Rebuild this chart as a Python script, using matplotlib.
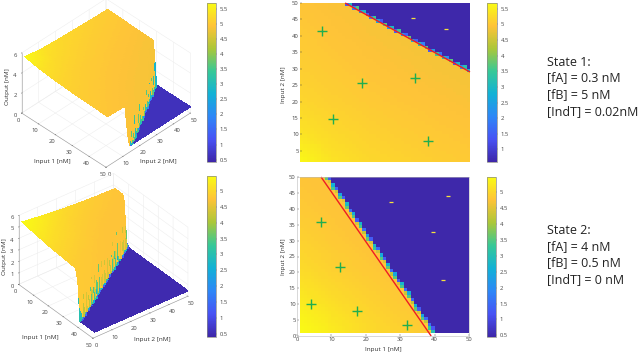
import numpy as np
import matplotlib
matplotlib.use('Agg')
import matplotlib.pyplot as plt
from matplotlib.colors import LinearSegmentedColormap, Normalize
from matplotlib.cm import ScalarMappable
from mpl_toolkits.mplot3d.art3d import Poly3DCollection

W, H = 640, 353
PARULA = LinearSegmentedColormap.from_list('parula', [
    (0.2422, 0.1504, 0.6603), (0.2810, 0.3228, 0.9579), (0.1786, 0.5289, 0.9682),
    (0.0689, 0.6948, 0.8394), (0.2161, 0.7843, 0.5923), (0.6720, 0.7793, 0.2227),
    (0.9970, 0.7659, 0.2199), (0.9769, 0.9839, 0.0805)])

# plateau levels, at input values level_nodes
level_nodes = [1, 10, 20, 30, 40, 50]
levels_1 = [[5.62, 5.35, 5.22, 5.15, 5.08, 5.03],
            [5.35, 5.22, 5.13, 5.06, 5.01, 4.97],
            [5.18, 5.10, 5.03, 4.98, 4.94, 4.90],
            [5.08, 5.02, 4.96, 4.92, 4.88, 4.85],
            [5.02, 4.96, 4.91, 4.87, 4.84, 4.82],
            [4.96, 4.91, 4.87, 4.84, 4.82, 4.80]]
levels_2 = [[5.45, 5.25, 5.05, 4.92, 4.80, 4.72],
            [5.25, 5.08, 4.94, 4.82, 4.74, 4.70],
            [5.05, 4.92, 4.82, 4.74, 4.70, 4.70],
            [4.92, 4.82, 4.74, 4.70, 4.70, 4.70],
            [4.82, 4.76, 4.70, 4.70, 4.70, 4.70],
            [4.76, 4.72, 4.70, 4.70, 4.70, 4.70]]
low_1, low_2 = 0.62, 0.47

# first non-plateau row in every column x = 1..50
bound_1 = [51]*13 + [49, 49, 48, 48, 47, 47, 46, 45, 45, 44, 44, 43, 42, 42, 41, 41, 40, 40,
                     39, 38, 38, 37, 37, 36, 35, 35, 34, 34, 33, 33, 32, 31, 31, 30, 30, 29, 29]
edge_1 = [1.5, 3.0, 2.0, 3.6, 2.2, 3.0, 1.5, 2.0, 3.5, 2.6, 1.4, 3.7, 2.2, 3.0, 1.5, 3.5, 2.4, 1.6,
          3.8, 2.8, 1.5, 3.2, 2.0, 3.6, 1.5, 2.5, 3.5, 1.8, 3.0, 2.2, 3.7, 1.5, 3.0, 2.2, 3.2, 2.8, 2.8]
bound_2 = [51]*6 + [50, 49, 48, 46, 45, 43, 42, 40, 38, 37, 35, 34, 32, 30, 29, 27, 26, 24, 23, 21, 19,
                    18, 16, 15, 13, 12, 10, 8, 7, 5, 4, 2, 1] + [0]*11
edge_2 = [4.2, 3.6, 4.4, 3.4, 4.3, 3.5, 4.5, 3.6, 4.3, 3.5, 4.4, 3.4, 4.2, 3.6, 4.4, 3.3, 4.3,
          3.5, 4.4, 3.6, 4.2, 3.5, 4.4, 3.4, 4.3, 3.5, 4.2, 3.6, 4.4, 3.5, 4.2, 3.3, 3.0]
edge_2b = [1.6, 2.2, 1.3, 2.6, 1.4, 2.4, 1.3, 2.8, 1.5, 2.5, 1.3, 2.7, 1.5, 2.3, 1.3, 2.8, 1.5,
           2.5, 1.3, 2.6, 1.5, 2.4, 1.3, 2.7, 1.5, 2.5, 1.4, 2.6, 1.3, 2.4, 1.5, 1.6, 1.2]

plus_1_x = [7.2, 18.8, 34.2, 10.6, 38.0]
plus_1_y = [41.4, 25.6, 27.2, 14.7, 8.0]
dash_1_x = [33.7, 43.0]
dash_1_y = [45.4, 42.0]
plus_2_x = [7.1, 12.4, 4.1, 17.4, 31.9]
plus_2_y = [35.8, 21.6, 10.1, 7.9, 3.5]
dash_2_x = [27.4, 44.0, 39.4, 42.3]
dash_2_y = [42.1, 44.0, 32.8, 17.6]
line_1_x, line_1_y = [14, 50], [50, 29]
line_2_x, line_2_y = [7, 39], [50, 0]

state_1 = ['State 1:', '[fA] = 0.3 nM', '[fB] = 5 nM', '[IndT] = 0.02nM']
state_2 = ['State 2:', '[fA] = 4 nM', '[fB] = 0.5 nM', '[IndT] = 0 nM']
state_1_y = [62, 78, 95, 112]
state_2_y = [230, 247, 263, 280]

ticks_cb_1 = [1, 1.5, 2, 2.5, 3, 3.5, 4, 4.5, 5, 5.5]
ticks_cb_2 = [0.5, 1, 1.5, 2, 2.5, 3, 3.5, 4, 4.5, 5]
ticks_cb_3d1 = [0.5, 1, 1.5, 2, 2.5, 3, 3.5, 4, 4.5, 5, 5.5]


def build(levels, bound, edge, low, edge_b=None):
    nodes = np.arange(1, 51)
    lev = np.array(levels)
    by_col = np.array([np.interp(nodes, level_nodes, r) for r in lev])
    Z = np.array([np.interp(nodes, level_nodes, c) for c in by_col.T]).T
    first = next(i for i, b in enumerate(bound) if b <= 50)
    for i, b in enumerate(bound):
        if b > 50:
            continue
        if b < 1:
            Z[:, i] = low
            continue
        row = b - 1
        Z[row:, i] = low
        k = min(i - first, len(edge) - 1)
        Z[row, i] = edge[k]
        if edge_b is not None and row + 1 < 50:
            Z[row + 1, i] = edge_b[k]
    return Z


Z1 = build(levels_1, bound_1, edge_1, low_1)
Z2 = build(levels_2, bound_2, edge_2, low_2, edge_2b)

fig = plt.figure(figsize=(W/100, H/100), dpi=100, facecolor='white')
plt.rcParams['font.family'] = ['Open Sans', 'DejaVu Sans']


def rect(x0, y0, x1, y1):
    return [x0/W, 1 - y1/H, (x1 - x0)/W, (y1 - y0)/H]


def colorbar(box, vmin, vmax, ticks):
    cax = fig.add_axes(rect(*box))
    cb = fig.colorbar(ScalarMappable(Normalize(vmin, vmax), PARULA), cax=cax, ticks=ticks)
    cb.ax.tick_params(labelsize=4.2, length=1, width=0.3, colors='#444444', pad=1.5)
    cb.ax.set_yticklabels([f'{t:g}' for t in ticks])
    cb.outline.set_linewidth(0.5)
    cb.outline.set_edgecolor('#888888')


def heat(box, Z, norm, xlim, ylim, plus, dash, line, show_x):
    ax = fig.add_axes(rect(*box))
    nodes = np.arange(1, 51)
    ax.pcolormesh(nodes, nodes, Z[:-1, :-1], cmap=PARULA, norm=norm, shading='flat',
                  antialiased=False)
    ax.plot(line[0], line[1], color='#ee1c25', lw=1.0, solid_capstyle='butt', clip_on=False)
    ax.plot(plus[0], plus[1], ls='none', marker='+', ms=7.8, mew=1.0, color='#1fae50')
    ax.plot(dash[0], dash[1], ls='none', marker='_', ms=3.2, mew=0.9, color='#f6e23c')
    ax.set_xlim(*xlim)
    ax.set_ylim(*ylim)
    ax.set_yticks(range(5 if ylim[0] > 0 else 0, 51, 5))
    ax.set_xticks(range(0, 51, 10) if show_x else [])
    ax.tick_params(labelsize=4.2, length=1.2, width=0.3, colors='#444444', pad=1, direction='in')
    for s in ax.spines.values():
        s.set_linewidth(0.4)
        s.set_edgecolor('#bbbbbb')
        s.set_visible(show_x)
    return ax


n1 = Normalize(0.6, 5.68)
n2 = Normalize(0.45, 5.47)
heat((300, 3, 470, 162.3), Z1, n1, (1, 50), (1.5, 50), (plus_1_x, plus_1_y), (dash_1_x, dash_1_y),
     (line_1_x, line_1_y), False)
heat((297, 177, 469, 336), Z2, n2, (0, 50), (0, 50), (plus_2_x, plus_2_y), (dash_2_x, dash_2_y),
     (line_2_x, line_2_y), True)
colorbar((487, 3, 497, 162), 0.6, 5.68, ticks_cb_1)
colorbar((487, 177, 496, 337), 0.45, 5.47, ticks_cb_2)
colorbar((207, 3, 216, 162), 0.42, 5.69, ticks_cb_3d1)
colorbar((207, 176, 216, 337), 0.4, 5.47, ticks_cb_2)


def label(x, y, s, rot=0):
    fig.text(x/W, 1 - y/H, s, rotation=rot, fontsize=4.6, ha='center', va='center', color='#333333')


label(283, 85, 'Input 2 [nM]', 90)
label(283, 257, 'Input 2 [nM]', 90)
label(383, 349, 'Input 1 [nM]')
label(52, 162, 'Input 1 [nM]')
label(158, 162, 'Input 2 [nM]')
label(8, 87, 'Output [nM]', 90)
label(40, 337, 'Input 1 [nM]')
label(152, 340, 'Input 2 [nM]')
label(5, 257, 'Output [nM]', 90)


def surf3d(cx, cy, aspect, zoom, elev, azim, Zs, norm, zticks):
    size = 200
    left = cx - 0.5135*size
    top = cy - (1 - 0.5135)*size
    ax = fig.add_axes([left/W, 1 - (top + size)/H, size/W, size/H], projection='3d', facecolor='none')
    ax.set_proj_type('ortho')
    ax.view_init(elev=elev, azim=azim)
    ax.set_box_aspect(aspect, zoom=zoom)
    nodes = np.arange(1, 51)
    X, Y = np.meshgrid(nodes, nodes)
    P = np.dstack([X, Y, Zs]).astype(float)
    # split each grid cell in two triangles: a steep quad would self-intersect on screen
    tri_a = np.stack([P[:-1, :-1], P[:-1, 1:], P[1:, 1:]], axis=2).reshape(-1, 3, 3)
    tri_b = np.stack([P[:-1, :-1], P[1:, 1:], P[1:, :-1]], axis=2).reshape(-1, 3, 3)
    verts = np.concatenate([tri_a, tri_b])
    colours = PARULA(norm(verts[:, :, 2].max(axis=1)))
    poly = Poly3DCollection(verts, facecolors=colours, edgecolors=colours, linewidths=0.1,
                            antialiaseds=False, zsort='average')
    ax.add_collection3d(poly)
    ax.set_xlim(0, 50, view_margin=0)
    ax.set_ylim(0, 50, view_margin=0)
    ax.set_zlim(0, 6, view_margin=0)
    ax.set_xticks(range(0, 51, 10))
    ax.set_yticks(range(0, 51, 10))
    ax.set_zticks(zticks)
    ax.tick_params(labelsize=4.2, pad=-5, length=1, width=0.3, colors='#444444')
    ax.zaxis.set_ticks_position('lower')
    for axis in (ax.xaxis, ax.yaxis, ax.zaxis):
        axis.set_pane_color((1, 1, 1, 0))
        axis.pane.set_edgecolor('#e4e4e4')
        axis.pane.set_linewidth(0.4)
        axis.line.set_linewidth(0.4)
        axis.line.set_color('#999999')
        axis._axinfo['grid'].update(color='#ececec', linewidth=0.35)
        axis._axinfo['tick'].update(inward_factor=0.05, outward_factor=0.05, linewidth={True: 0.3, False: 0.3})
    return ax


surf3d(106, 83, (1, 1, 0.658), 0.903, 40, -45, Z1.T, Normalize(0.42, 5.69), [0, 2, 4, 6])
surf3d(103.3, 255.8, (1, 1, 0.694), 0.922, 34.5, -38, Z2, Normalize(0.4, 5.47), [0, 1, 2, 3, 4, 5, 6])

for lines, ys in ((state_1, state_1_y), (state_2, state_2_y)):
    for t, y in zip(lines, ys):
        fig.text(547/W, 1 - y/H, t, fontsize=9.0, ha='left', va='center', color='#222222',
                 family=['Open Sans', 'DejaVu Sans'])

fig.savefig('out.png', dpi=100)
